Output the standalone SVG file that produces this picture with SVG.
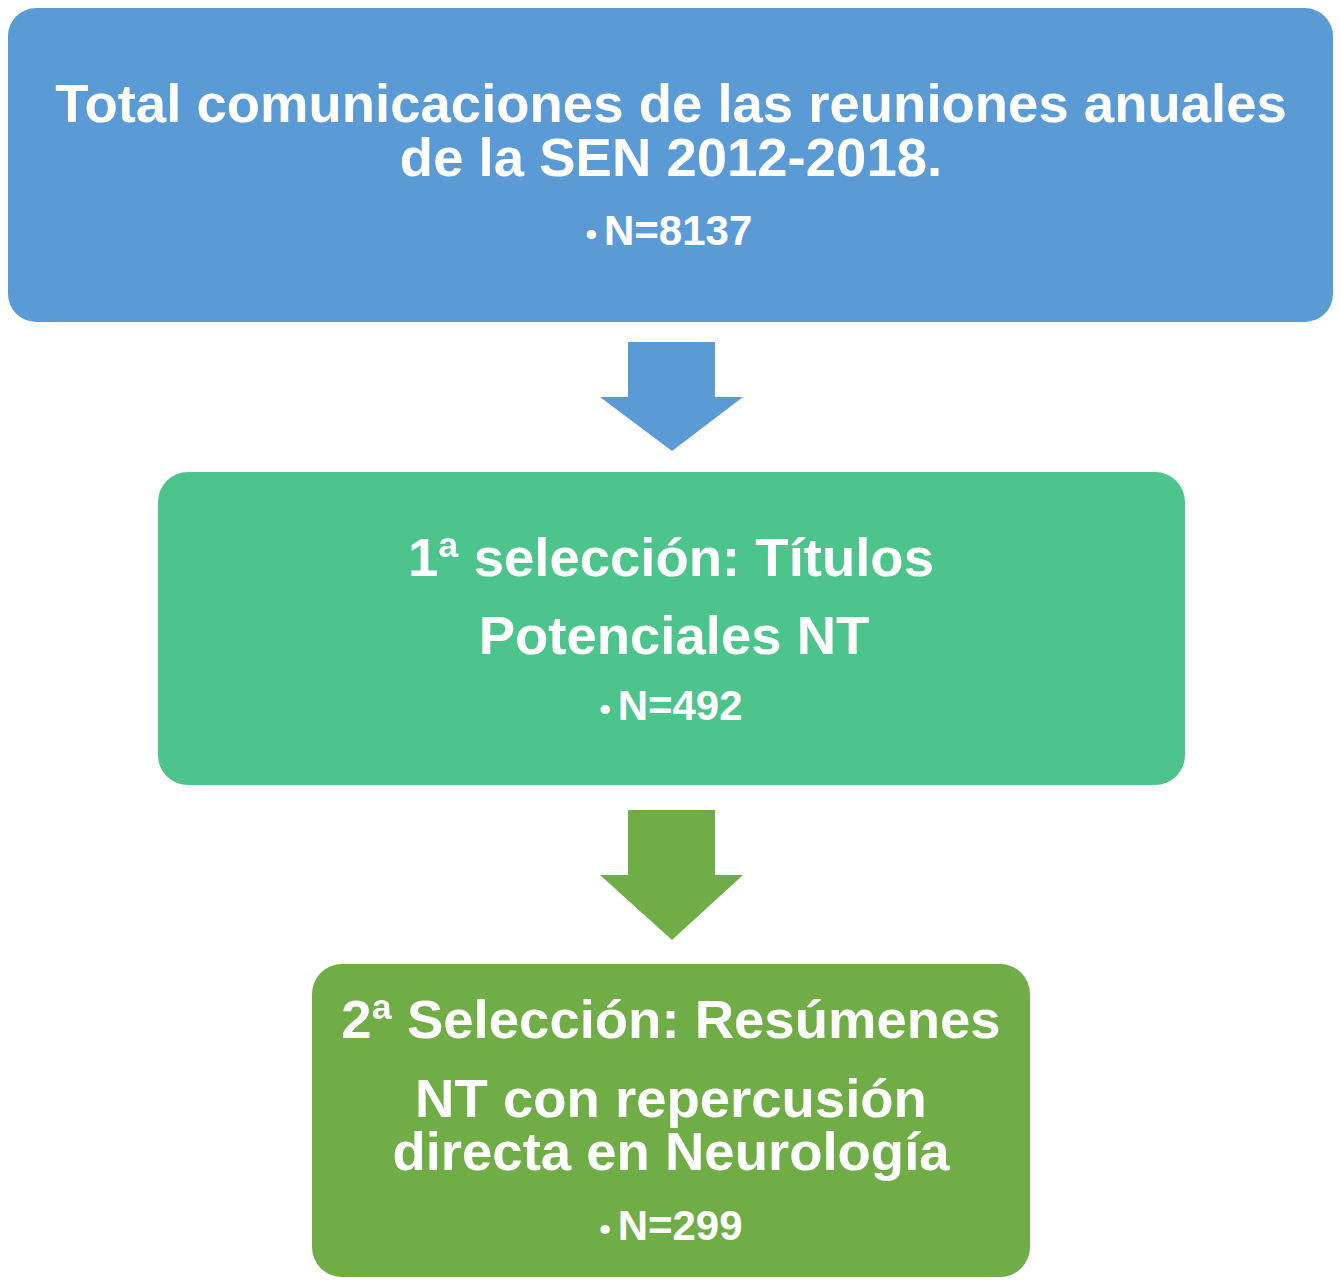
<svg xmlns="http://www.w3.org/2000/svg" width="1341" height="1286" viewBox="0 0 1341 1286">
<style>
text{font-family:"Liberation Sans",Arial,sans-serif;font-weight:bold;fill:#ffffff;text-anchor:middle}
.t{font-size:54.5px}
.n{font-size:42px}
.b{font-size:32px}
</style>
<rect width="1341" height="1286" fill="#ffffff"/>
<g id="node1">
<rect x="8" y="8" width="1325" height="314" rx="28" fill="#5b9bd5"/>
<text class="t" x="671" y="122">Total comunicaciones de las reuniones anuales</text>
<text class="t" x="671" y="176">de la SEN 2012-2018.</text>
<text class="n" x="669" y="245"><tspan class="b">•</tspan><tspan dx="7">N=8137</tspan></text>
</g>
<g id="node2">
<rect x="158" y="472" width="1027" height="313" rx="30" fill="#4cc48b"/>
<text class="t" x="671" y="576">1ª selección: Títulos</text>
<text class="t" x="674" y="654">Potenciales NT</text>
<text class="n" x="671" y="720"><tspan class="b">•</tspan><tspan dx="7">N=492</tspan></text>
</g>
<g id="node3">
<rect x="312" y="964" width="718" height="313" rx="30" fill="#70ad47"/>
<text class="t" x="671" y="1038">2ª Selección: Resúmenes</text>
<text class="t" x="671" y="1117">NT con repercusión</text>
<text class="t" x="671" y="1170">directa en Neurología</text>
<text class="n" x="671" y="1240"><tspan class="b">•</tspan><tspan dx="7">N=299</tspan></text>
</g>
<g id="connectors">
<polygon points="628,342 715,342 715,397 743,397 672,451 600,397 628,397" fill="#5b9bd5"/>
<polygon points="628,810 715,810 715,875 743,875 672,940 600,875 628,875" fill="#70ad47"/>
</g>
</svg>
